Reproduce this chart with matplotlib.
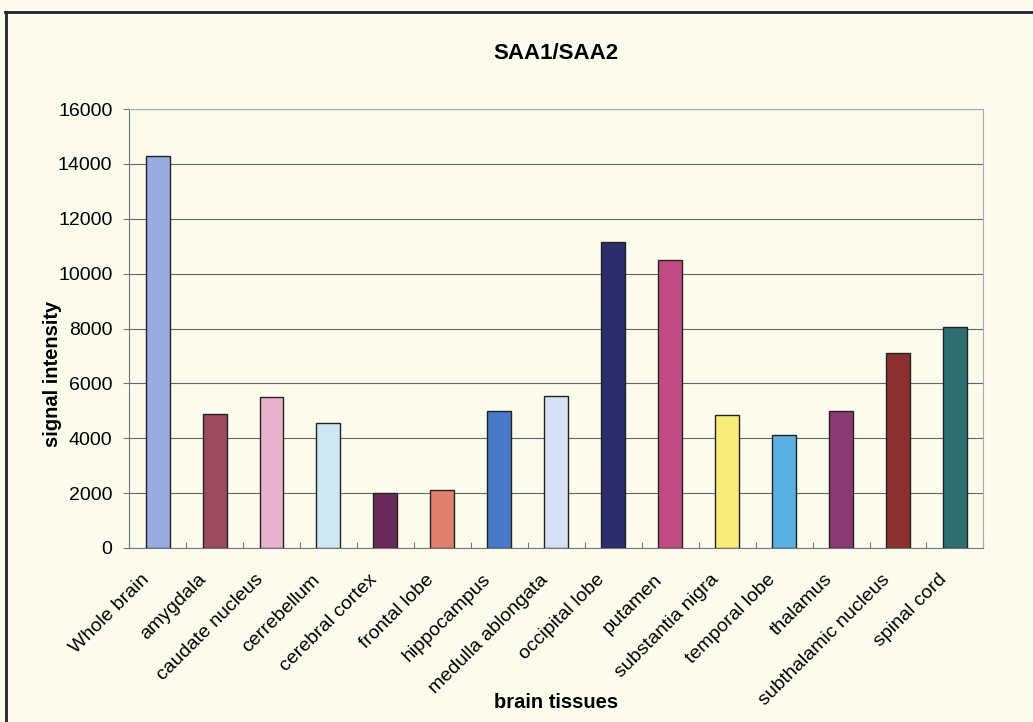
import matplotlib
matplotlib.use('Agg')
from matplotlib import pyplot as plt
from matplotlib.lines import Line2D
from matplotlib.transforms import ScaledTranslation

plt.rcParams['font.family'] = ['Liberation Sans', 'DejaVu Sans']

# Данные
tissues = ['Whole brain', 'amygdala', 'caudate nucleus', 'cerrebellum',
           'cerebral cortex', 'frontal lobe', 'hippocampus',
           'medulla ablongata', 'occipital lobe', 'putamen',
           'substantia nigra', 'temporal lobe', 'thalamus',
           'subthalamic nucleus', 'spinal cord']
signal = [14290, 4880, 5490, 4540, 1990, 2110, 5000, 5550, 11150, 10480,
          4850, 4120, 5000, 7100, 8040]
colors = ['#9aabe2', '#9c4a5e', '#e8b2cc', '#cde8f2', '#6a2a5c', '#e0806e',
          '#4a78c8', '#d8e0f4', '#2c2e6c', '#c04a82', '#f8ec7a', '#5ab0e2',
          '#8a3a72', '#8a3030', '#2e6e70']
yticks = list(range(0, 16001, 2000))

bg = '#fcfcec'
fig = plt.figure(figsize=(10.33, 7.22), dpi=100, facecolor=bg)
ax = fig.add_axes([0.125, 0.241, 0.827, 0.608])
ax.set_facecolor(bg)

x = list(range(len(tissues)))
ax.bar(x, signal, width=0.42, color=colors, edgecolor='#222222',
       linewidth=1.0, zorder=3)

ax.set_ylim(0, 16000)
ax.set_xlim(-0.5, len(tissues) - 0.5)
ax.set_yticks(yticks)
ax.set_yticklabels([str(v) for v in yticks])
ax.set_xticks([i + 0.5 for i in range(-1, len(tissues))])
ax.set_xticklabels([])
ax.tick_params(axis='x', length=4, direction='in', color='#777777')
ax.tick_params(axis='y', length=4, color='#777777', labelsize=14, pad=8)

# подписи категорий под углом
shift = ScaledTranslation(-17 / 100, -23 / 100, fig.dpi_scale_trans)
for i, name in zip(x, tissues):
    ax.text(i, 0, name, rotation=45, ha='right', va='top',
            rotation_mode='anchor', fontsize=14,
            transform=ax.get_xaxis_transform() + shift)

ax.grid(axis='y', color='#666666', linewidth=0.8, zorder=0)
for side in ['left', 'bottom']:
    ax.spines[side].set_color('#777777')
for side in ['top', 'right']:
    ax.spines[side].set_color('#aaaaaa')

ax.set_title('SAA1/SAA2', fontsize=16, fontweight='bold', pad=36)
ax.set_ylabel('signal intensity', fontsize=14.5, fontweight='bold')
ax.yaxis.set_label_coords(-0.079, 0.396)
ax.set_xlabel('brain tissues', fontsize=14.5, fontweight='bold')
ax.xaxis.set_label_coords(0.5, -0.33)

# рамка
fig.add_artist(Line2D([0.005, 1.0], [0.983, 0.983], color='#222233',
                      linewidth=2, transform=fig.transFigure))
fig.add_artist(Line2D([0.006, 0.006], [0.0, 0.983], color='#222222',
                      linewidth=2, transform=fig.transFigure))

plt.savefig('out.png', dpi=100, facecolor=bg)
